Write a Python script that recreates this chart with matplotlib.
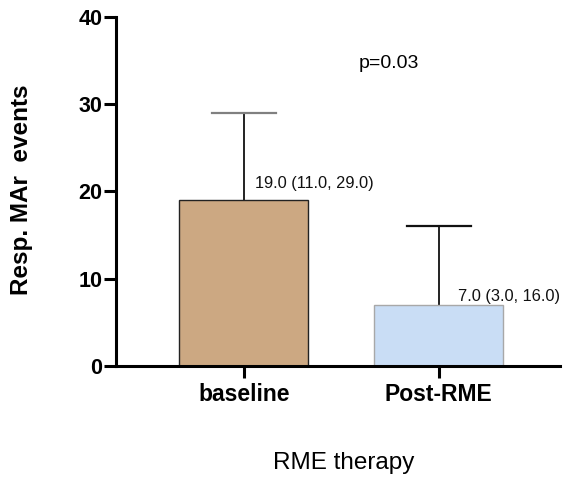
import matplotlib
matplotlib.use("Agg")
import matplotlib.pyplot as plt

plt.rcParams['font.family'] = ['Liberation Sans', 'DejaVu Sans']

groups = ["baseline", "Post-RME"]
medians = [19.0, 7.0]
q1 = [11.0, 3.0]
q3 = [29.0, 16.0]
bar_colors = ["#CCA882", "#C9DDF5"]
edge_colors = ["#222222", "#A8A8A8"]
cap_colors = ["#808080", "#111111"]
y_ticks = [0, 10, 20, 30, 40]
p_text = "p=0.03"

# vertical gap (points) between each bar top and its summary label
label_gaps = [8.5, 2.5]

fig = plt.figure(figsize=(5.66, 4.79), dpi=100)
ax = fig.add_axes([0.205, 0.236, 0.784, 0.7285])

x = list(range(len(groups)))
for i in x:
    ax.bar(i, medians[i], width=0.66, color=bar_colors[i],
           edgecolor=edge_colors[i], linewidth=1.0, zorder=2)
    ax.plot([i, i], [medians[i], q3[i]], color="#111111", lw=1.3, zorder=1)
    ax.plot([i - 0.165, i + 0.165], [q3[i], q3[i]], color=cap_colors[i], lw=1.6, zorder=1)
    ax.annotate(f"{medians[i]:.1f} ({q1[i]:.1f}, {q3[i]:.1f})",
                xy=(i + 0.36, medians[i]), xytext=(0, label_gaps[i]),
                textcoords="offset points", fontsize=11.8,
                ha="center", va="baseline", color="#111111")

ax.set_xlim(-0.655, 1.62)
ax.set_ylim(0, 40)
ax.set_yticks(y_ticks)
ax.set_xticks(x)
ax.set_xticklabels(groups, fontsize=16.5, fontweight="bold")
for lab in ax.get_yticklabels():
    lab.set_fontsize(15.5)
    lab.set_fontweight("bold")

for s in ["top", "right"]:
    ax.spines[s].set_visible(False)
for s in ["left", "bottom"]:
    ax.spines[s].set_linewidth(2.2)
ax.tick_params(axis="both", width=2.2, length=8.5, direction="out")
ax.tick_params(axis="y", pad=1.5)
ax.tick_params(axis="x", pad=4)

ax.set_ylabel("Resp. MAr  events", fontsize=17.5, fontweight="bold", va="center")
ax.yaxis.set_label_coords(-0.212, 0.504)
ax.set_xlabel("RME therapy", fontsize=17.5, va="baseline")
ax.xaxis.set_label_coords(0.514, -0.295)

ax.text(0.746, 34.2, p_text, fontsize=14, ha="center", va="baseline")

fig.savefig("out.png", dpi=100)
